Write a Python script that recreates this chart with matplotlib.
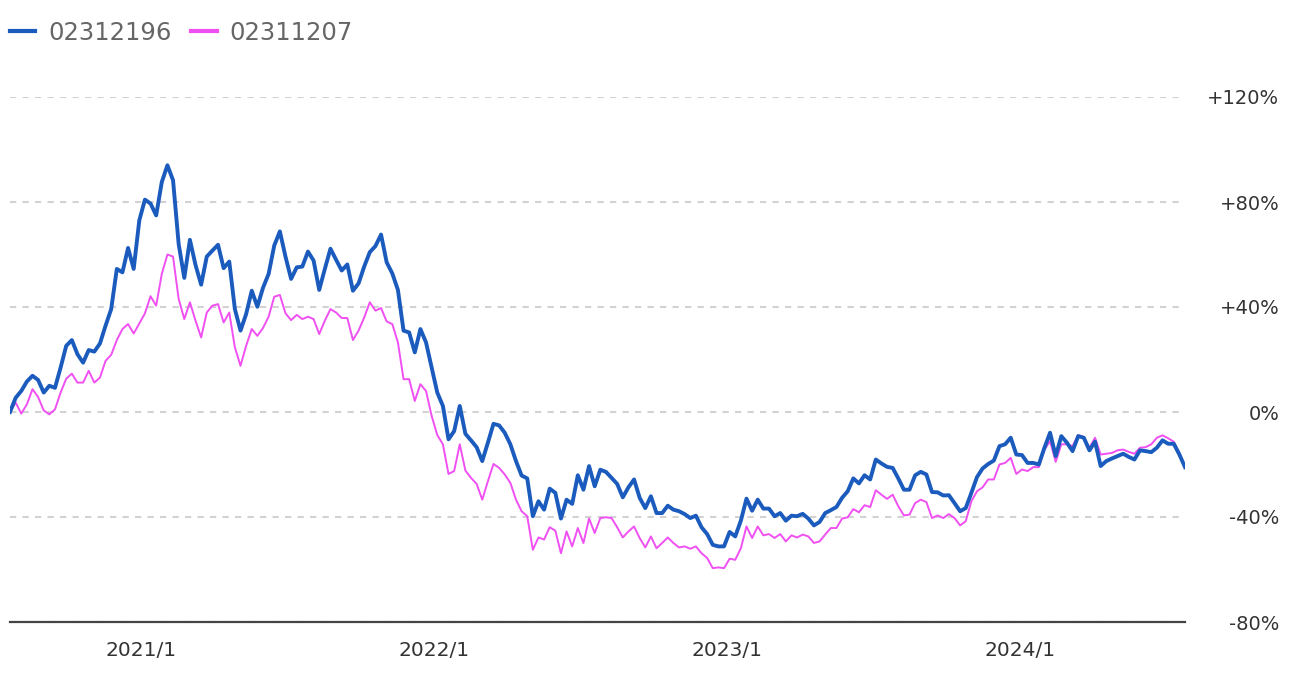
# Weekly return comparison of two funds - line chart

import pandas as pd
import numpy as np
import matplotlib
matplotlib.use('Agg')
import matplotlib.pyplot as plt

# Series names
fund_a = '02312196'
fund_b = '02311207'

# Weekly cumulative return (%)
returns_a = [
    0, 5.4, 8, 11.6, 13.8, 12.2, 7.4, 10, 9.2, 16.9,
    25.2, 27.4, 22, 18.8, 23.6, 23, 26.1, 32.9, 39.2, 54.5,
    53.2, 62.5, 54.5, 73, 80.9, 79.4, 74.9, 87.6, 94, 88.3,
    64, 51.1, 65.6, 56, 48.5, 59.2, 61.5, 63.7, 54.8, 57.3,
    39.2, 31, 37.3, 46.2, 40.1, 47.3, 52.6, 63.4, 68.8, 59.2,
    50.7, 55.1, 55.4, 61.1, 57.7, 46.5, 54.5, 62.2, 58, 53.9,
    56.2, 46.2, 49, 55.4, 60.9, 63.2, 67.6, 57, 52.8, 46.5,
    31, 30.3, 22.7, 31.6, 26.5, 16.9, 7.4, 2.3, -10.4, -7.3,
    2.3, -8.3, -10.8, -13.4, -18.7, -11.7, -4.5, -5.1, -7.9, -12.3,
    -18.7, -24.2, -25.3, -39.7, -34, -37.2, -29.2, -30.8, -40.6, -33.4,
    -35, -24.1, -29.6, -20.6, -28.3, -22, -22.8, -25.1, -27.4, -32.5,
    -28.7, -25.7, -32.7, -36.6, -32.1, -38.5, -38.5, -35.7, -37.2, -37.8,
    -38.9, -40.4, -39.5, -43.9, -46.5, -50.6, -51.2, -51.2, -45.7, -47.4,
    -41.4, -33, -37.6, -33.4, -36.8, -36.8, -39.7, -38.5, -41.4, -39.5,
    -39.7, -38.8, -40.6, -43.2, -41.9, -38.5, -37.4, -36.2, -32.7, -30.2,
    -25.3, -27.2, -24.1, -25.7, -18.1, -19.6, -20.9, -21.3, -25.3, -29.6,
    -29.6, -24.1, -22.8, -23.8, -30.5, -30.6, -31.8, -31.7, -34.7, -37.8,
    -36.6, -30.8, -24.8, -21.5, -19.8, -18.5, -13, -12.3, -9.8, -16.2,
    -16.4, -19.4, -19.4, -20, -13.6, -7.9, -16.8, -9.2, -11.7, -14.9,
    -9.2, -9.8, -14.6, -11.3, -20.6, -18.7, -17.7, -16.8, -15.9, -17.1,
    -18.1, -14.6, -14.9, -15.3, -13.6, -10.8, -12.1, -12.1, -16.2, -21,
]

returns_b = [
    0, 3.6, -0.6, 2.9, 8.7, 5.7, 0.6, -0.9, 1, 7.4,
    12.7, 14.6, 11.2, 11.2, 15.7, 11.2, 13.1, 19.5, 21.8, 27.4,
    31.6, 33.5, 29.9, 33.7, 37.6, 44.1, 40.5, 52.6, 60, 59.2,
    43.1, 35.4, 41.8, 34.8, 28.4, 37.9, 40.5, 41.1, 34.1, 37.9,
    24.6, 17.6, 25.2, 31.6, 29, 32, 36.3, 43.9, 44.6, 37.6,
    35, 37, 35.4, 36.3, 35.4, 29.7, 34.8, 39.2, 37.9, 35.8,
    35.8, 27.4, 31, 36, 41.8, 38.6, 39.6, 34.5, 33.5, 26.5,
    12.5, 12.5, 4.2, 10.6, 8, -1.5, -8.8, -12.3, -23.6, -22.5,
    -12.3, -22.3, -25.1, -27.4, -33.4, -26.4, -19.8, -21.3, -23.8, -27,
    -33.4, -37.8, -39.7, -52.5, -47.8, -48.6, -43.9, -45.2, -53.8, -45.5,
    -51.2, -44.2, -49.9, -40.6, -46.1, -40.4, -40.1, -40.4, -43.9, -47.8,
    -45.5, -43.6, -48, -51.6, -47.4, -51.9, -49.9, -47.8, -49.9, -51.6,
    -51.2, -52.1, -51.2, -53.8, -55.6, -59.5, -59.2, -59.5, -55.9, -56.3,
    -51.9, -43.6, -48, -43.6, -47, -46.5, -48, -46.5, -49.3, -47,
    -47.8, -46.7, -47.4, -49.9, -49.3, -46.7, -44.2, -44.2, -40.6, -40.1,
    -37, -38.2, -35.5, -36.2, -29.8, -31.5, -33.1, -31.5, -35.9, -39.4,
    -39.1, -34.7, -33.4, -34.3, -40.4, -39.4, -40.4, -38.9, -40.4, -43.2,
    -41.6, -34, -30.2, -28.7, -25.7, -25.7, -20, -19.4, -17.5, -23.6,
    -21.9, -22.5, -21, -21, -14.3, -11.1, -19, -12.3, -12.3, -13,
    -8.8, -9.6, -13.6, -9.8, -16.2, -15.9, -15.6, -14.6, -14.3, -15.2,
    -15.9, -13.6, -13.4, -12.3, -9.8, -8.9, -10, -11.3, -15.6, -21.3,
]

# Weekly dates
dates = pd.date_range(start='2020-07-22', periods=len(returns_a), freq='7D')

# Axis ticks
y_ticks = [-80, -40, 0, 40, 80, 120]
y_labels = ['-80%', '-40%', '0%', '+40%', '+80%', '+120%']
x_ticks = pd.to_datetime(['2021-01-01', '2022-01-01', '2023-01-01', '2024-01-01'])
x_labels = ['2021/1', '2022/1', '2023/1', '2024/1']

plt.rcParams['font.family'] = ['DejaVu Sans']

fig = plt.figure(figsize=(13.06, 6.74), dpi=100)
ax = fig.add_axes([10 / 1306, 52 / 674, 1175 / 1306, 525 / 674])

line_a, = ax.plot(dates, returns_a, color='#1a5bbd', linewidth=2.8, zorder=3, label=fund_a)
line_b, = ax.plot(dates, returns_b, color='#f050f2', linewidth=1.4, zorder=2, label=fund_b)

ax.set_xlim(dates[0], dates[-1])
ax.set_ylim(-80, 120)

# Y axis on the right
ax.yaxis.tick_right()
ax.set_yticks(y_ticks)
ax.set_yticklabels(y_labels)
ax.tick_params(axis='y', length=0, pad=68, labelsize=14, labelcolor='#333333')
for lbl in ax.get_yticklabels():
    lbl.set_horizontalalignment('right')

ax.set_xticks(x_ticks)
ax.set_xticklabels(x_labels)
ax.tick_params(axis='x', length=0, pad=14, labelsize=14.5, labelcolor='#333333')

# Grid and spines
ax.grid(axis='y', color='#d2d2d2', linewidth=1.5, linestyle=(0, (3, 3)))
ax.grid(axis='x', visible=False)
for side in ['top', 'left', 'right']:
    ax.spines[side].set_visible(False)
ax.spines['bottom'].set_color('#444444')
ax.spines['bottom'].set_linewidth(1.6)
ax.spines['bottom'].set_zorder(4)

# Legend at top left
leg = fig.legend(handles=[line_a, line_b], loc='center left',
                 bbox_to_anchor=(10 / 1306, 1 - 33 / 674),
                 ncol=2, frameon=False, fontsize=17.5, handlelength=1.03,
                 handletextpad=0.54, columnspacing=0.82,
                 borderpad=0, borderaxespad=0)
for t in leg.get_texts():
    t.set_color('#666666')
for h in leg.get_lines():
    h.set_linewidth(3)

fig.savefig('out.png', dpi=100)
